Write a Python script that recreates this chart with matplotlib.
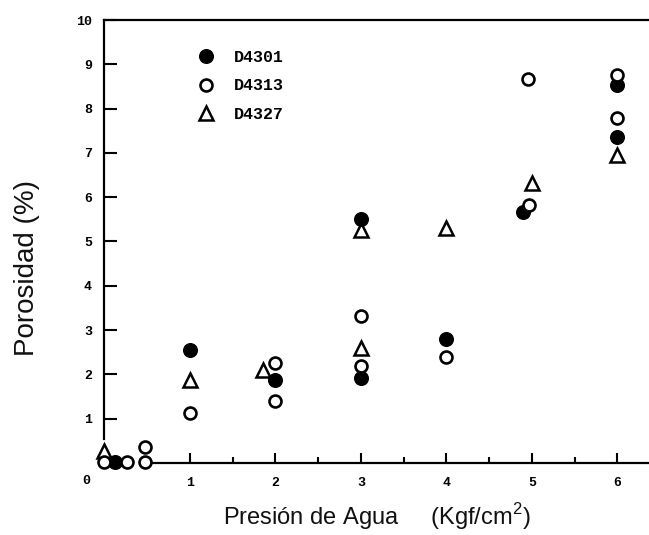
import matplotlib.pyplot as plt
import numpy as np

plt.rcParams['mathtext.fontset'] = 'custom'
plt.rcParams['mathtext.rm'] = 'Liberation Sans'

# porosity data
d4301_x = [0.12, 1, 2, 3, 3, 4, 4.9, 6, 6]
d4301_y = [0.02, 2.55, 1.87, 5.5, 1.92, 2.8, 5.67, 8.53, 7.36]

d4313_x = [0, 0.26, 0.47, 0.47, 1, 2, 2, 3, 3, 4, 4.97, 4.95, 6, 6]
d4313_y = [0.02, 0.02, 0.36, 0.02, 1.13, 2.26, 1.40, 3.32, 2.19, 2.39, 5.82, 8.67, 8.76, 7.79]

d4327_x = [0, 1, 1.85, 3, 3, 4, 5, 6]
d4327_y = [0.27, 1.88, 2.1, 5.26, 2.6, 5.3, 6.32, 6.95]

x_ticks = [1, 2, 3, 4, 5, 6]
y_ticks = [1, 2, 3, 4, 5, 6, 7, 8, 9, 10]

fig = plt.figure(figsize=(6.49, 5.35), dpi=100)
ax = fig.add_axes([0.161, 0.1346, 0.839, 0.828])

ax.plot(d4327_x, d4327_y, '^', ms=9.5, mfc='white', mec='black', mew=1.8,
        label='D4327', clip_on=False, zorder=3)
ax.plot(d4301_x, d4301_y, 'o', ms=9.8, mfc='black', mec='black', mew=1,
        label='D4301', clip_on=False, zorder=4)
ax.plot(d4313_x, d4313_y, 'o', ms=8.6, mfc='white', mec='black', mew=1.9,
        label='D4313', clip_on=False, zorder=5)

ax.set_xlim(0, 6.37)
ax.set_ylim(0, 10)

ax.spines['right'].set_visible(False)
for s in ['left', 'top', 'bottom']:
    ax.spines[s].set_linewidth(1.6)
ax.spines['left'].set_bounds(0.55, 10)
ax.spines['bottom'].set_bounds(0.55, 6.37)

tick_font = {'family': 'Liberation Mono', 'weight': 'bold', 'size': 9.5}
ax.set_xticks(x_ticks)
ax.set_xticks(np.arange(1.5, 6.0, 1.0), minor=True)
ax.set_xticklabels([str(t) for t in x_ticks], fontdict=tick_font)
ax.set_yticks(y_ticks)
ax.set_yticklabels([str(t) for t in y_ticks], fontdict=tick_font)
ax.tick_params(axis='x', which='major', direction='in', length=7, width=1.5, pad=10)
ax.tick_params(axis='x', which='minor', direction='in', length=4, width=1.5)
ax.tick_params(axis='y', which='major', direction='in', length=9, width=1.5, pad=9)
ax.text(-0.21, -0.4, '0', fontdict=tick_font, ha='center', va='center', clip_on=False)

ax.set_xlabel('Presión de Agua     (Kgf/cm$^{2}$)', fontsize=17,
              family='Liberation Sans', color='#111111', labelpad=9)
ax.set_ylabel('Porosidad (%)', fontsize=20, family='Liberation Sans',
              color='#111111')
ax.yaxis.set_label_coords(-0.118, 0.44)

h, l = ax.get_legend_handles_labels()
order = [1, 2, 0]
ax.legend([h[i] for i in order], [l[i] for i in order], loc='upper left',
          bbox_to_anchor=(0.171, 0.933), frameon=False, borderpad=0,
          borderaxespad=0, handlelength=1, handletextpad=1.2, labelspacing=0.82,
          prop={'family': 'Liberation Mono', 'weight': 'bold', 'size': 12})

fig.savefig('out.png', dpi=100)
